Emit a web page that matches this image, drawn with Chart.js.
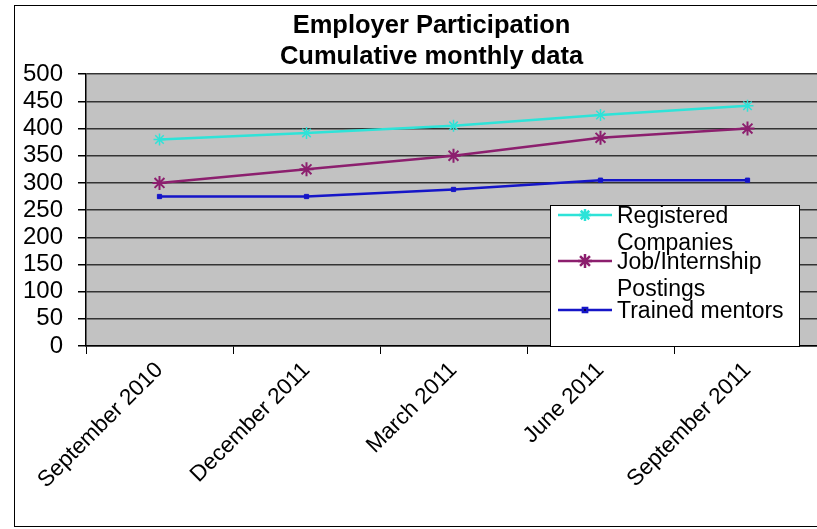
<!DOCTYPE html>
<html>
<head>
<meta charset="utf-8">
<script src="https://cdn.jsdelivr.net/npm/chart.js@4.4.1/dist/chart.umd.min.js"></script>
<style>
  html, body { margin: 0; padding: 0; background: #ffffff; overflow: hidden; }
  #wrap { position: absolute; left: 0; top: 0; width: 862px; height: 529px; }
</style>
</head>
<body>
<div id="wrap"><canvas id="chart" width="862" height="529"></canvas></div>
<script>
// Quarterly reporting periods
const periods = ['September 2010', 'December 2011', 'March 2011', 'June 2011', 'September 2011'];

// Cumulative counts per period
const registeredCompanies = [380, 392, 405, 425, 442];
const jobPostings = [300, 325, 350, 383, 400];
const trainedMentors = [275, 275, 288, 305, 305];

// Y axis range and step
const yMin = 0;
const yMax = 500;
const yStep = 50;

const titleLines = ['Employer Participation', 'Cumulative monthly data'];
const seriesNames = ['Registered Companies', 'Job/Internship Postings', 'Trained mentors'];

const FONT = '"Liberation Sans", Arial, sans-serif';

// Grey plot panel and outer frame
const panelPlugin = {
  id: 'panel',
  afterLayout(chart) {
    // centre the title over the plot region rather than the whole canvas
    if (chart.titleBlock) chart.titleBlock.left = 42;
  },
  beforeDraw(chart) {
    const { ctx, chartArea: a } = chart;
    ctx.save();
    ctx.fillStyle = '#ffffff';
    ctx.fillRect(0, 0, chart.width, chart.height);
    ctx.strokeStyle = '#000000';
    ctx.lineWidth = 1;
    ctx.strokeRect(14.5, 5.5, chart.width + 20, 521);
    ctx.fillStyle = '#c2c2c2';
    ctx.fillRect(a.left, a.top, a.right - a.left, a.bottom - a.top);
    ctx.restore();
  }
};

// Boxed legend sitting over the lower right of the plot
const boxLegendPlugin = {
  id: 'boxLegend',
  afterDatasetsDraw(chart) {
    const { ctx } = chart;
    const box = { x: 550.5, y: 205.5, w: 249, h: 141 };
    ctx.save();
    ctx.fillStyle = '#ffffff';
    ctx.fillRect(box.x, box.y, box.w, box.h);
    ctx.strokeStyle = '#000000';
    ctx.lineWidth = 1;
    ctx.strokeRect(box.x, box.y, box.w, box.h);

    ctx.font = '23px ' + FONT;
    ctx.fillStyle = '#000000';
    ctx.textBaseline = 'alphabetic';
    const textX = 617;
    const maxW = 178;
    const entryBaselines = [223, 269, 318];
    chart.data.datasets.forEach((ds, i) => {
      // word wrap the series name
      const words = ds.label.split(' ');
      const lines = [];
      let cur = '';
      words.forEach(w => {
        const t = cur ? cur + ' ' + w : w;
        if (ctx.measureText(t).width > maxW && cur) { lines.push(cur); cur = w; }
        else cur = t;
      });
      if (cur) lines.push(cur);
      const base = entryBaselines[i];
      lines.forEach((ln, k) => ctx.fillText(ln, textX, base + k * 27));

      // sample line with marker
      const ly = base - 8;
      ctx.strokeStyle = ds.borderColor;
      ctx.lineWidth = 2.5;
      ctx.beginPath();
      ctx.moveTo(558, ly);
      ctx.lineTo(612, ly);
      ctx.stroke();
      Chart.helpers.drawPoint(ctx, {
        pointStyle: ds.pointStyle,
        radius: ds.pointRadius,
        borderWidth: 1.5,
        rotation: 0
      }, 585, ly);
    });
    ctx.restore();
  }
};

const ctx = document.getElementById('chart').getContext('2d');
new Chart(ctx, {
  type: 'line',
  data: {
    labels: periods,
    datasets: [
      {
        label: seriesNames[0],
        data: registeredCompanies,
        borderColor: '#2ee3d8',
        backgroundColor: '#2ee3d8',
        borderWidth: 2.5,
        pointStyle: 'star',
        pointRadius: 6,
        pointBorderWidth: 1.5,
        tension: 0
      },
      {
        label: seriesNames[1],
        data: jobPostings,
        borderColor: '#8c1f6e',
        backgroundColor: '#8c1f6e',
        borderWidth: 2.5,
        pointStyle: 'star',
        pointRadius: 7,
        pointBorderWidth: 2,
        tension: 0
      },
      {
        label: seriesNames[2],
        data: trainedMentors,
        borderColor: '#1515c8',
        backgroundColor: '#1515c8',
        borderWidth: 2.5,
        pointStyle: 'rect',
        pointRadius: 3,
        pointBorderWidth: 1,
        tension: 0
      }
    ]
  },
  options: {
    responsive: false,
    animation: false,
    devicePixelRatio: 1,
    layout: { padding: { top: 0, left: 0, right: 41, bottom: 0 } },
    plugins: {
      legend: { display: false },
      tooltip: { enabled: false },
      title: {
        display: true,
        text: titleLines,
        color: '#000000',
        font: { family: FONT, size: 25.5, weight: 'bold', lineHeight: 1.2 },
        padding: { top: 11, bottom: 2 }
      }
    },
    scales: {
      x: {
        type: 'category',
        offset: true,
        grid: {
          offset: true,
          drawOnChartArea: false,
          drawTicks: true,
          tickLength: 8,
          tickColor: '#000000',
          tickWidth: 1
        },
        border: { display: true, color: '#000000', width: 1.5 },
        ticks: {
          color: '#000000',
          font: { family: FONT, size: 22.5 },
          maxRotation: 45,
          minRotation: 45,
          autoSkip: false,
          padding: 3
        },
        afterFit(scale) { scale.height = 183; }
      },
      y: {
        min: yMin,
        max: yMax,
        ticks: {
          stepSize: yStep,
          autoSkip: false,
          color: '#000000',
          font: { family: FONT, size: 24 },
          padding: 15
        },
        grid: {
          color: '#333333',
          lineWidth: 1.5,
          drawTicks: true,
          tickLength: 8,
          tickColor: '#000000'
        },
        border: { display: true, color: '#000000', width: 1.5 },
        afterFit(scale) { scale.width = 86; }
      }
    }
  },
  plugins: [panelPlugin, boxLegendPlugin]
});
</script>
</body>
</html>
